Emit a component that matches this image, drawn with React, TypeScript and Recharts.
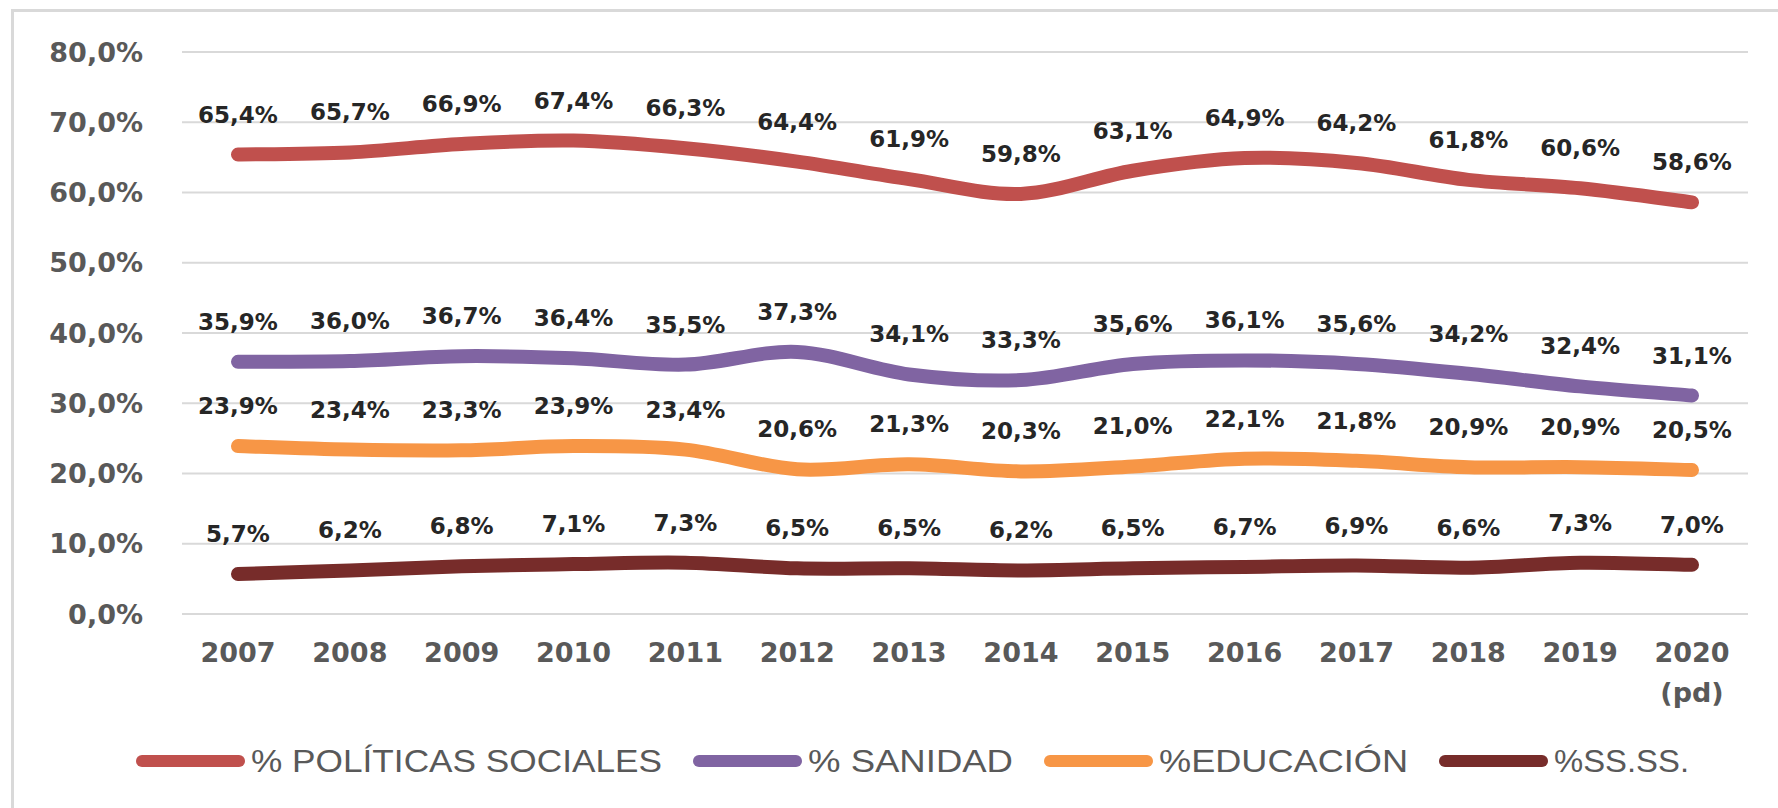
import React from 'react';
import { LineChart, Line, XAxis, YAxis, CartesianGrid, Legend, LabelList } from 'recharts';

const years = ['2007', '2008', '2009', '2010', '2011', '2012', '2013', '2014', '2015', '2016', '2017', '2018', '2019', '2020 (pd)'];
const politicasSociales = [65.4, 65.7, 66.9, 67.4, 66.3, 64.4, 61.9, 59.8, 63.1, 64.9, 64.2, 61.8, 60.6, 58.6];
const sanidad = [35.9, 36.0, 36.7, 36.4, 35.5, 37.3, 34.1, 33.3, 35.6, 36.1, 35.6, 34.2, 32.4, 31.1];
const educacion = [23.9, 23.4, 23.3, 23.9, 23.4, 20.6, 21.3, 20.3, 21.0, 22.1, 21.8, 20.9, 20.9, 20.5];
const serviciosSociales = [5.7, 6.2, 6.8, 7.1, 7.3, 6.5, 6.5, 6.2, 6.5, 6.7, 6.9, 6.6, 7.3, 7.0];
const yTicks = [0, 10, 20, 30, 40, 50, 60, 70, 80];

const series = [
  { key: 'politicas', name: '% POLÍTICAS SOCIALES', color: '#C0504D', values: politicasSociales },
  { key: 'sanidad', name: '% SANIDAD', color: '#8064A2', values: sanidad },
  { key: 'educacion', name: '%EDUCACIÓN', color: '#F79646', values: educacion },
  { key: 'ssss', name: '%SS.SS.', color: '#772C2A', values: serviciosSociales },
];

// legend text widths as laid out in the original (px)
const legendTextWidths = [411, 205, 249, 135];

const data = years.map((year, i) => {
  const row: Record<string, string | number> = { year };
  series.forEach(s => { row[s.key] = s.values[i]; });
  return row;
});

const pct = (v: number) => v.toFixed(1).replace('.', ',') + '%';

const FONT = '"DejaVu Sans", Verdana, sans-serif';

// Excel-style smoothed line (uniform Catmull-Rom as cubic beziers)
function excelSmooth(context: any) {
  let pts: number[][] = [];
  return {
    areaStart() {},
    areaEnd() {},
    lineStart() { pts = []; },
    lineEnd() {
      if (!pts.length) return;
      context.moveTo(pts[0][0], pts[0][1]);
      for (let i = 0; i < pts.length - 1; i++) {
        const p0 = pts[i - 1] || pts[i];
        const p1 = pts[i];
        const p2 = pts[i + 1];
        const p3 = pts[i + 2] || p2;
        context.bezierCurveTo(
          p1[0] + (p2[0] - p0[0]) / 6, p1[1] + (p2[1] - p0[1]) / 6,
          p2[0] - (p3[0] - p1[0]) / 6, p2[1] - (p3[1] - p1[1]) / 6,
          p2[0], p2[1]
        );
      }
    },
    point(x: number, y: number) { pts.push([+x, +y]); },
  };
}

function YearTick({ x, y, payload }: any) {
  const lines = String(payload.value).split(' ');
  return (
    <g transform={`translate(${x},${y})`}>
      <text textAnchor="middle" fill="#595959" fontSize={27} fontWeight="bold" fontFamily={FONT}>
        {lines.map((line, i) => (
          <tspan key={i} x={0} dy={i === 0 ? 42 : 40}>{line}</tspan>
        ))}
      </text>
    </g>
  );
}

function LegendContent() {
  let x = 136;
  const items = series.map((s, i) => {
    const start = x;
    const w = legendTextWidths[i];
    x += 109 + 6 + w + 31;
    return (
      <g key={s.key}>
        <rect x={start} y={14} width={109} height={12} rx={6} fill={s.color} />
        <text
          x={start + 115}
          y={31}
          textLength={w}
          lengthAdjust="spacingAndGlyphs"
          fontFamily='"Liberation Sans", Arial, sans-serif'
          fontSize={31}
          fill="#595959"
        >
          {s.name}
        </text>
      </g>
    );
  });
  return <svg width={1778} height={40} style={{ display: 'block' }}>{items}</svg>;
}

export default function App() {
  return (
    <div style={{ position: 'absolute', left: 0, top: 0, width: 1778, height: 808, overflow: 'hidden', background: '#fff' }}>
      <div style={{ position: 'absolute', left: 11, top: 9, width: 2000, height: 1000, borderTop: '3px solid #d9d9d9', borderLeft: '3px solid #d9d9d9' }} />
      <div style={{ position: 'absolute', left: 0, top: 0 }}>
        <LineChart width={1778} height={808} data={data} margin={{ top: 52, right: 30, bottom: 94, left: 0 }} style={{ fontFamily: FONT }}>
          <CartesianGrid vertical={false} stroke="#d9d9d9" strokeWidth={2} />
          <XAxis
            dataKey="year"
            axisLine={false}
            tickLine={false}
            height={60}
            tickMargin={0}
            padding={{ left: 56, right: 56 }}
            interval={0}
            tick={<YearTick />}
          />
          <YAxis
            domain={[0, 80]}
            ticks={yTicks}
            width={182}
            axisLine={false}
            tickLine={false}
            tickMargin={33}
            tickFormatter={pct}
            tick={{ fill: '#595959', fontSize: 27, fontWeight: 'bold', fontFamily: FONT }}
          />
          <Legend
            verticalAlign="bottom"
            content={<LegendContent />}
            wrapperStyle={{ left: 0, top: 741, width: 1778, height: 40 }}
          />
          {series.map(s => (
            <Line
              key={s.key}
              type={excelSmooth as any}
              dataKey={s.key}
              name={s.name}
              stroke={s.color}
              strokeWidth={14}
              strokeLinecap="round"
              strokeLinejoin="round"
              dot={false}
              activeDot={false}
              isAnimationActive={false}
            >
              <LabelList
                dataKey={s.key}
                position="top"
                offset={32}
                formatter={(v: any) => pct(Number(v))}
                fill="#262626"
                fontSize={23}
                fontWeight="bold"
                fontFamily={FONT}
              />
            </Line>
          ))}
        </LineChart>
      </div>
    </div>
  );
}
